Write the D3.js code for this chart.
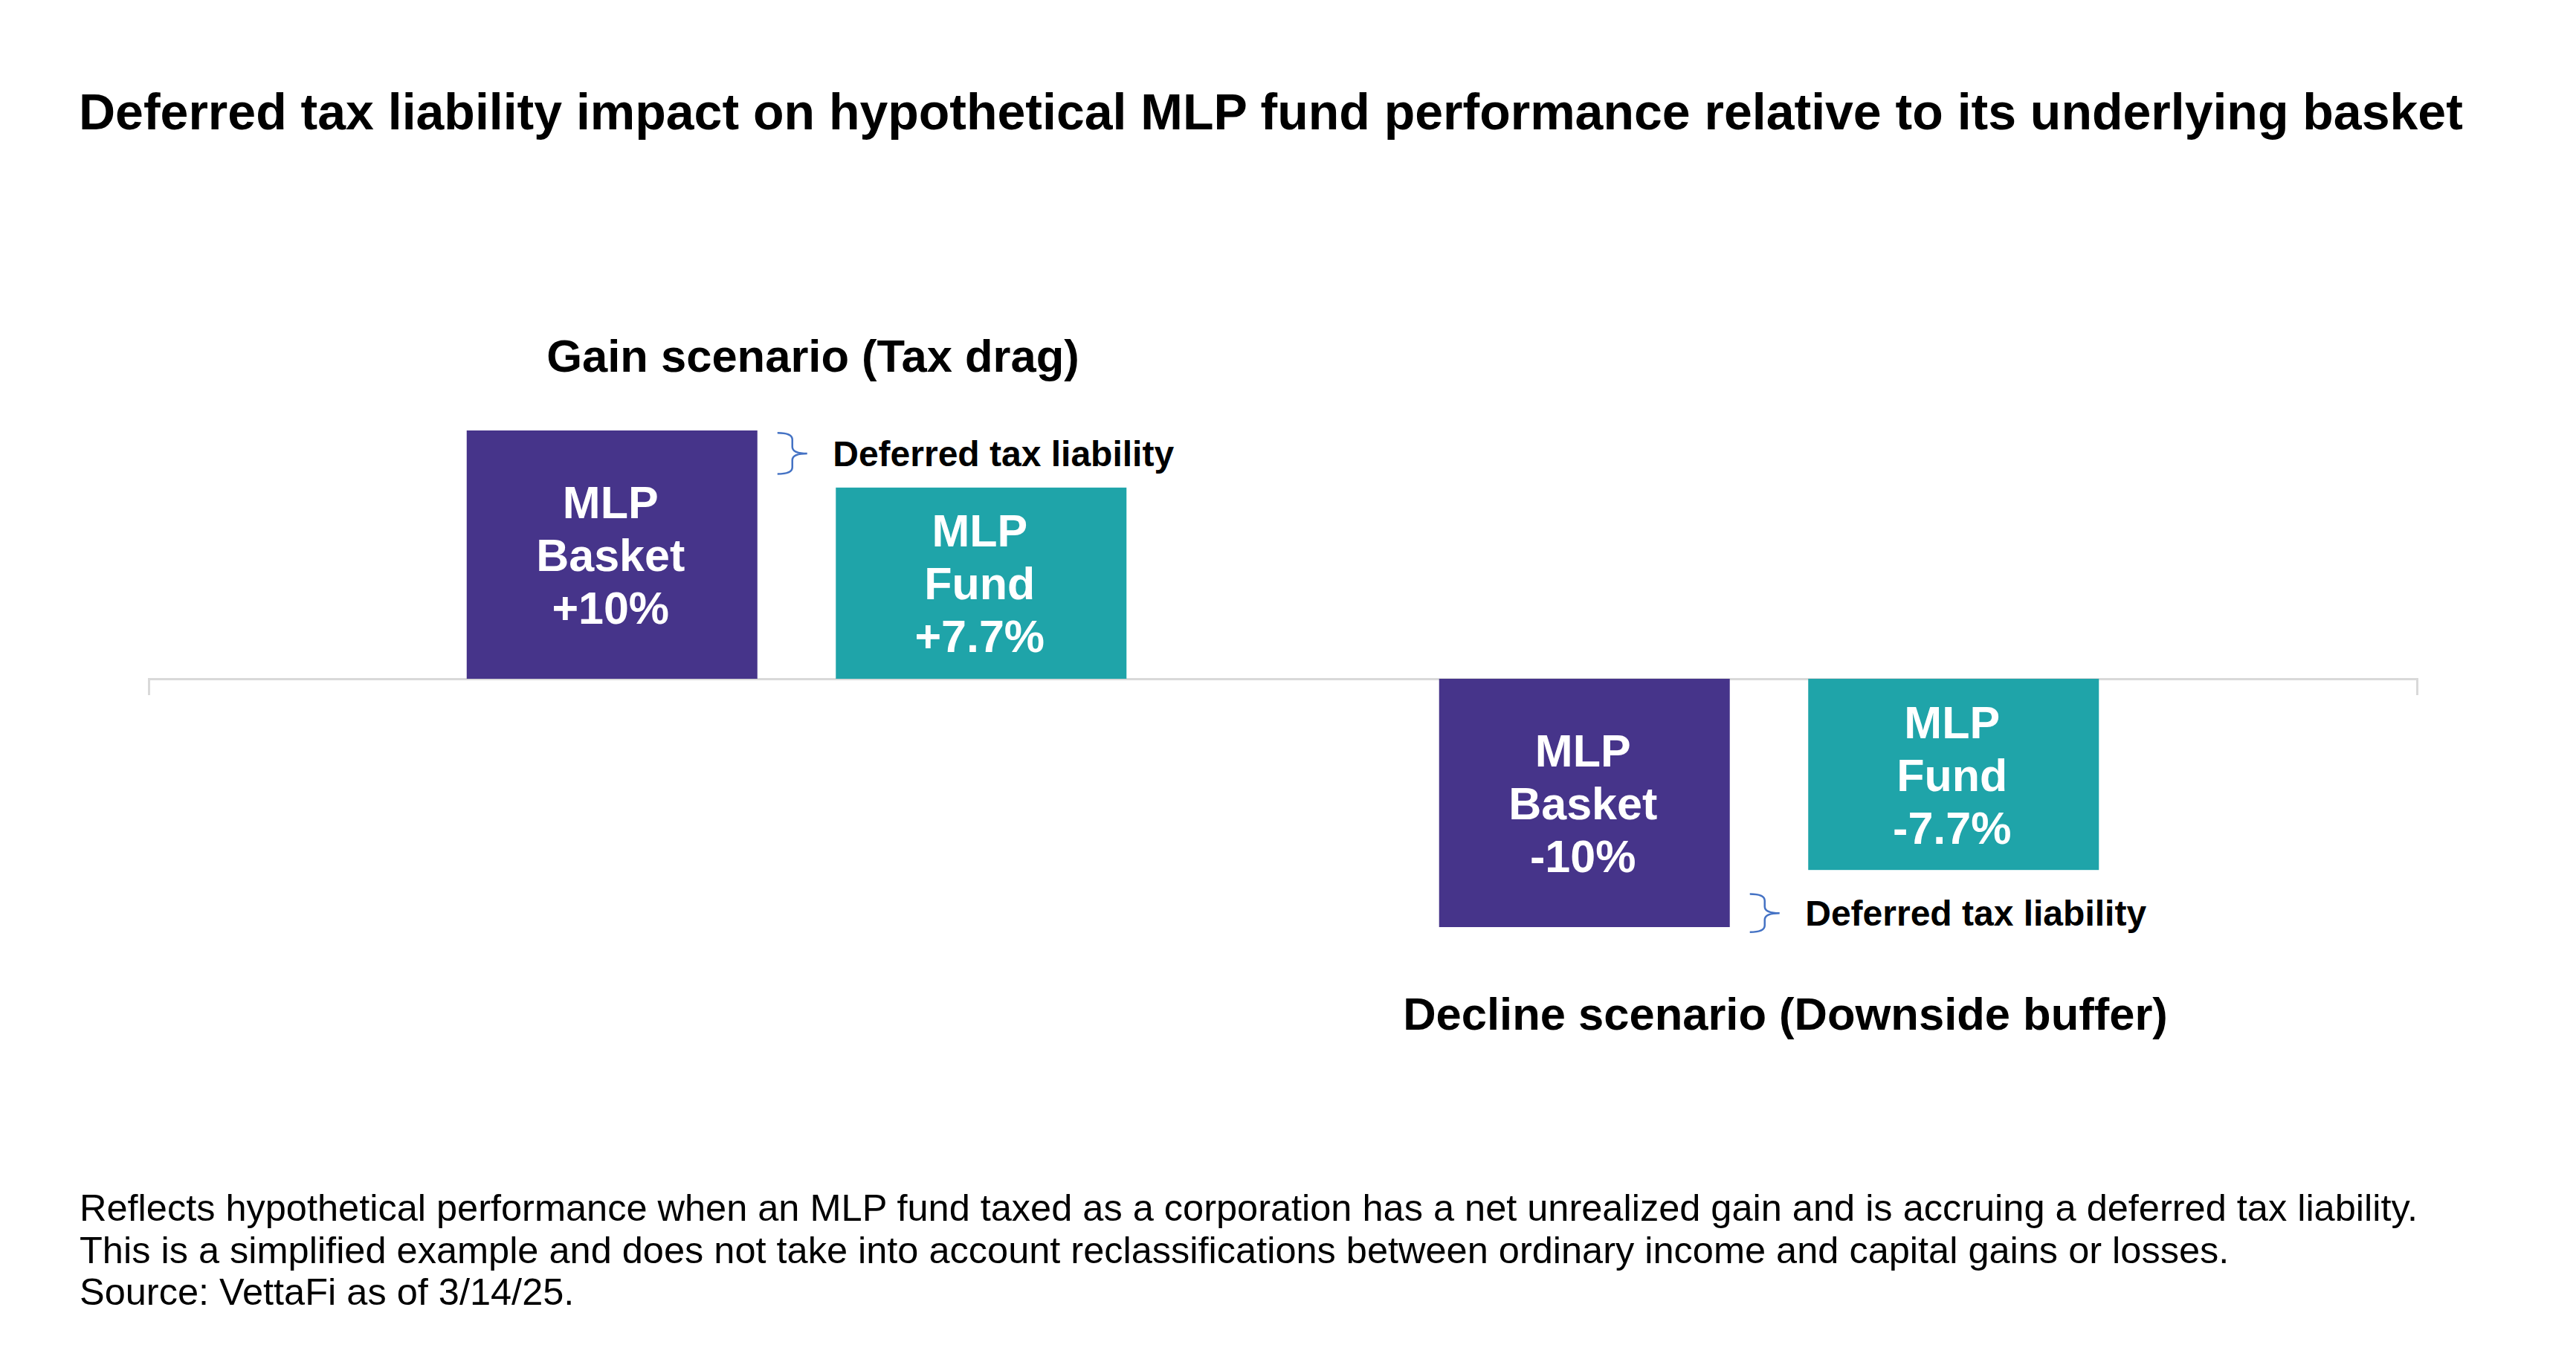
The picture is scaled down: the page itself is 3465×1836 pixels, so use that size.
<!DOCTYPE html>
<html>
<head>
<meta charset="utf-8">
<script src="https://cdn.jsdelivr.net/npm/d3@7"></script>
<style>
  body { margin: 0; background: #fff; }
  text { font-family: "Liberation Sans", Arial, sans-serif; }
</style>
</head>
<body>
<div id="chart"></div>
<script>
const scenarios = ["Gain scenario (Tax drag)", "Decline scenario (Downside buffer)"]
const series = ["MLP Basket", "MLP Fund"]
const basketValues = [10, -10]
const fundValues = [7.7, -7.7]
// deferred tax liability brace spans, in % units
const dtlRanges = [[9.9, 8.25], [-8.67, -10.2]]
const dtlText = "Deferred tax liability"
const title = "Deferred tax liability impact on hypothetical MLP fund performance relative to its underlying basket"
const notes = [
  "Reflects hypothetical performance when an MLP fund taxed as a corporation has a net unrealized gain and is accruing a deferred tax liability.",
  "This is a simplified example and does not take into account reclassifications between ordinary income and capital gains or losses.",
  "Source: VettaFi as of 3/14/25."
]

const width = 3465
const height = 1836
const colors = { "MLP Basket": "#46348A", "MLP Fund": "#1FA4A9" }

const svg = d3.select('#chart')
  .append('svg')
  .attr('width', width)
  .attr('height', height)

svg.append('text')
  .attr('x', 106)
  .attr('y', 174)
  .attr('font-size', 68)
  .attr('font-weight', 'bold')
  .attr('fill', '#000')
  .text(title)

const x0 = d3.scaleBand()
  .domain(scenarios)
  .range([200, 3251])
  .paddingInner(0.2)
  .paddingOuter(0.2663)

const x1 = d3.scaleBand()
  .domain(series)
  .range([0, x0.bandwidth()])
  .paddingInner(0.2125)
  .paddingOuter(0.16)

const y = d3.scaleLinear()
  .domain([-10, 10])
  .range([1247, 579])

// baseline with end ticks
const axis = svg.append('g')
  .attr('transform', `translate(0,${y(0)})`)
  .call(d3.axisBottom(x0).tickSizeInner(0).tickSizeOuter(22).tickFormat(''))
axis.select('.domain').attr('stroke', '#D9D9D9').attr('stroke-width', 3)
axis.selectAll('.tick').remove()

const fmt = v => (v > 0 ? '+' : '-') + Math.abs(v) + '%'

const bars = []
scenarios.forEach((s, i) => {
  bars.push({ scenario: s, key: "MLP Basket", value: basketValues[i] })
  bars.push({ scenario: s, key: "MLP Fund", value: fundValues[i] })
})

const g = svg.append('g')

g.selectAll('rect')
  .data(bars)
  .enter()
  .append('rect')
  .attr('x', d => x0(d.scenario) + x1(d.key))
  .attr('y', d => Math.min(y(d.value), y(0)))
  .attr('width', x1.bandwidth())
  .attr('height', d => Math.abs(y(d.value) - y(0)))
  .attr('fill', d => colors[d.key])

const lineH = 71
const labels = g.selectAll('.barlabel')
  .data(bars)
  .enter()
  .append('text')
  .attr('class', 'barlabel')
  .attr('text-anchor', 'middle')
  .attr('font-size', 61)
  .attr('font-weight', 'bold')
  .attr('fill', '#fff')

labels.each(function (d) {
  const cx = x0(d.scenario) + x1(d.key) + x1.bandwidth() / 2 - 2
  const cy = (y(d.value) + y(0)) / 2
  const lines = d.key.split(' ').concat([fmt(d.value)])
  d3.select(this).selectAll('tspan')
    .data(lines)
    .enter()
    .append('tspan')
    .attr('x', cx)
    .attr('y', (t, j) => cy + (j - 1) * lineH + 22)
    .text(t => t)
})

// scenario titles: gain above, decline below
svg.selectAll('.scen')
  .data(scenarios)
  .enter()
  .append('text')
  .attr('class', 'scen')
  .attr('text-anchor', 'middle')
  .attr('x', d => x0(d) + x0.bandwidth() / 2 + 22)
  .attr('y', (d, i) => i === 0 ? 500 : 1385)
  .attr('font-size', 61.5)
  .attr('font-weight', 'bold')
  .attr('fill', '#000')
  .text(d => d)

// braces + deferred tax liability labels
const brace = (xa, xb, ya, yb) => {
  const xm = xa + (xb - xa) * 0.5
  const ym = (ya + yb) / 2
  const r = 9
  return `M${xa},${ya} Q${xm},${ya} ${xm},${ya + r} L${xm},${ym - r} Q${xm},${ym} ${xb},${ym}` +
    ` Q${xm},${ym} ${xm},${ym + r} L${xm},${yb - r} Q${xm},${yb} ${xa},${yb}`
}

scenarios.forEach((s, i) => {
  const bx = x0(s) + x1("MLP Basket") + x1.bandwidth()
  const ya = y(dtlRanges[i][0])
  const yb = y(dtlRanges[i][1])
  svg.append('path')
    .attr('d', brace(bx + 27, bx + 67, ya, yb))
    .attr('fill', 'none')
    .attr('stroke', '#4472C4')
    .attr('stroke-width', 2.5)
  svg.append('text')
    .attr('x', x0(s) + x1("MLP Fund") - 4)
    .attr('y', (ya + yb) / 2 + 17)
    .attr('font-size', 48)
    .attr('font-weight', 'bold')
    .attr('fill', '#000')
    .text(dtlText)
})

svg.append('g')
  .selectAll('text')
  .data(notes)
  .enter()
  .append('text')
  .attr('x', 107)
  .attr('y', (d, i) => 1642 + i * 56.5)
  .attr('font-size', 50.5)
  .attr('fill', '#000')
  .text(d => d)
</script>
</body>
</html>
